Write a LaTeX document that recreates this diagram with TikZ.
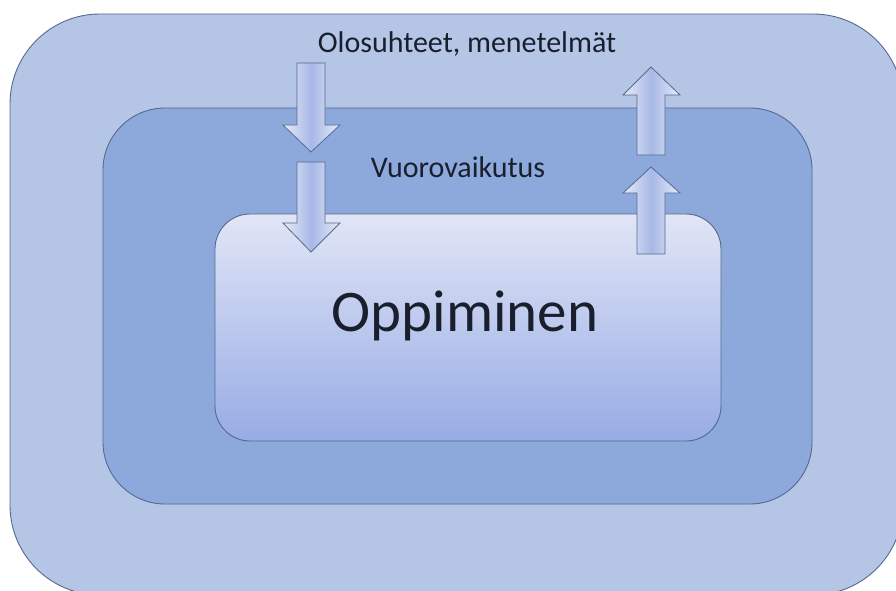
\documentclass[tikz,border=0pt]{standalone}
\usepackage{fontspec}
\setmainfont{Carlito}
\definecolor{outerbg}{HTML}{B4C5E5}
\definecolor{midbg}{HTML}{8DA9DB}
\definecolor{innertop}{HTML}{E1E6F6}
\definecolor{innermid}{HTML}{C3CEF0}
\definecolor{innerbot}{HTML}{97ABE5}
\definecolor{edgeblue}{HTML}{56698F}
\definecolor{arrowside}{HTML}{E6EBF8}
\definecolor{arrowcore}{HTML}{A7B8E6}
\definecolor{textdark}{HTML}{1A1F2E}
\begin{document}
\begin{tikzpicture}[x=1pt,y=-1pt,
    box/.style={draw=edgeblue,line width=0.9pt},
    blockarrow/.style={draw=edgeblue,line width=0.8pt,line join=miter,
        left color=arrowside,right color=arrowside,middle color=arrowcore},
    label/.style={anchor=base,text=textdark,inner sep=0pt}]
    \useasboundingbox[fill=white] (0,0) rectangle (896,591);
    % three nested boxes
    \draw[box,fill=outerbg,rounded corners=90pt] (10,14) rectangle (903,595);
    \draw[box,fill=midbg,rounded corners=62pt] (103,108) rectangle (812,504);
    \draw[box,top color=innertop,middle color=innermid,bottom color=innerbot,
        rounded corners=35pt] (215,214) rectangle (721,441);
    % arrows going in
    \foreach \top/\base/\tip in {63/125/152,162/223/252}{
        \draw[blockarrow] (297,\top)--(325,\top)--(325,\base)--(340,\base)
            --(311,\tip)--(283,\base)--(297,\base)--cycle;
    }
    % arrows going out
    \foreach \tip/\base/\bot in {67/95/155,167/193/254}{
        \draw[blockarrow] (637,\bot)--(665,\bot)--(665,\base)--(680,\base)
            --(651,\tip)--(623,\base)--(637,\base)--cycle;
    }
    \node[label,font=\fontsize{30}{36}\selectfont] (olo) at (467,53) {Olosuhteet, menetelmät};
    \node[label,font=\fontsize{30}{36}\selectfont] (vuo) at (458,177) {Vuorovaikutus};
    \node[label,font=\fontsize{59}{70}\selectfont] (opp) at (465,331) {Oppiminen};
\end{tikzpicture}
\end{document}
